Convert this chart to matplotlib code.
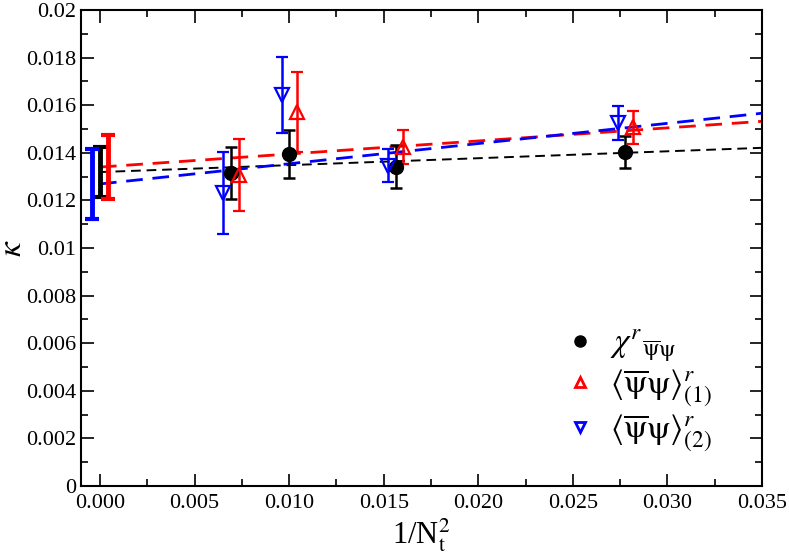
import numpy as np
import matplotlib
matplotlib.use('Agg')
import matplotlib.pyplot as plt
from matplotlib.lines import Line2D

plt.rcParams['font.family'] = ['Liberation Serif', 'DejaVu Serif']
plt.rcParams['mathtext.fontset'] = 'stix'

# data: 1/Nt^2 positions (slightly shifted per series), kappa and errors
x_chi = [0.00693, 0.0100, 0.01563, 0.02776]
y_chi = [0.01314, 0.01394, 0.01342, 0.01402]
e_chi = [0.00110, 0.00100, 0.00091, 0.00068]

x_pbp1 = [0.00735, 0.0104, 0.01602, 0.02816]
y_pbp1 = [0.01307, 0.01573, 0.01424, 0.01507]
e_pbp1 = [0.00152, 0.00168, 0.00070, 0.00069]

x_pbp2 = [0.0065, 0.0096, 0.01523, 0.02737]
y_pbp2 = [0.01231, 0.01643, 0.01345, 0.01524]
e_pbp2 = [0.00172, 0.00160, 0.00069, 0.00072]

# continuum extrapolations (value at x=0, error, slope)
x_ext = [0.0, 0.0004, -0.0004]
y_ext = [0.01319, 0.01340, 0.01269]
e_ext = [0.00105, 0.00135, 0.00147]
slopes = [0.0291, 0.0549, 0.0849]
colors = ['black', 'red', 'blue']

labels = [r'$\chi^{r}{}_{\overline{\mathrm{\psi}}\mathrm{\psi}}$',
          r'$\langle\overline{\mathrm{\psi}}\mathrm{\psi}\rangle^{r}_{(1)}$',
          r'$\langle\overline{\mathrm{\psi}}\mathrm{\psi}\rangle^{r}_{(2)}$']

fig = plt.figure(figsize=(7.89, 5.54), dpi=100)
ax = fig.add_axes([0.1027, 0.1227, 0.8631, 0.8593])

xfit = np.array([0.0, 0.035])
for y0, s, c in zip(y_ext, slopes, colors):
    lw = 1.4 if c == 'black' else 2.0
    ax.plot(xfit, y0 + s * xfit, color=c, lw=lw, dashes=(5, 3) if c == 'black' else (6, 3.5))

for x0, y0, e, c in zip(x_ext, y_ext, e_ext, colors):
    ax.errorbar([x0], [y0], yerr=[e], fmt='none', ecolor=c, elinewidth=3.5, capsize=5, capthick=3)

ax.errorbar(x_chi, y_chi, yerr=e_chi, fmt='o', color='black', ms=10, elinewidth=1.8,
            capsize=4, capthick=1.8)
ax.errorbar(x_pbp1, y_pbp1, yerr=e_pbp1, fmt='^', color='red', mfc='none', mec='red', mew=1.6,
            ms=10, elinewidth=1.8, capsize=4, capthick=1.8)
ax.errorbar(x_pbp2, y_pbp2, yerr=e_pbp2, fmt='v', color='blue', mfc='none', mec='blue', mew=1.6,
            ms=10, elinewidth=1.8, capsize=4, capthick=1.8)

ax.set_xlim(-0.001, 0.035)
ax.set_ylim(0, 0.02)
ax.set_xticks(np.arange(0, 0.0351, 0.005))
ax.set_xticks(np.arange(0.0025, 0.035, 0.005), minor=True)
ax.set_yticks(np.arange(0, 0.0201, 0.002))
ax.set_yticks(np.arange(0.001, 0.02, 0.002), minor=True)
ax.set_xticklabels(['%.3f' % v for v in np.arange(0, 0.0351, 0.005)])
ax.set_yticklabels(['0'] + ['%g' % v for v in np.arange(0.002, 0.0201, 0.002)])
ax.tick_params(which='both', direction='in', top=True, right=True, labelsize=16, width=1.2)
ax.tick_params(which='major', length=9)
ax.tick_params(which='minor', length=5)
ax.tick_params(axis='x', pad=6)
for sp in ax.spines.values():
    sp.set_linewidth(1.5)

ax.set_xlabel(r'1/N$_\mathrm{t}^2$', fontsize=22, labelpad=2)
ax.set_ylabel(r'$\kappa$', fontsize=24)
ax.yaxis.set_label_coords(-0.078, 0.5)

handles = [Line2D([], [], ls='none', marker='o', color='black', ms=8),
           Line2D([], [], ls='none', marker='^', mfc='none', mec='red', mew=2, ms=7),
           Line2D([], [], ls='none', marker='v', mfc='none', mec='blue', mew=2, ms=7)]
ax.legend(handles, labels, loc='lower right', bbox_to_anchor=(0.97, 0.005), frameon=False,
          fontsize=24, handletextpad=0.4, handlelength=1.0, labelspacing=0.1)

fig.savefig('out.png', dpi=100)
